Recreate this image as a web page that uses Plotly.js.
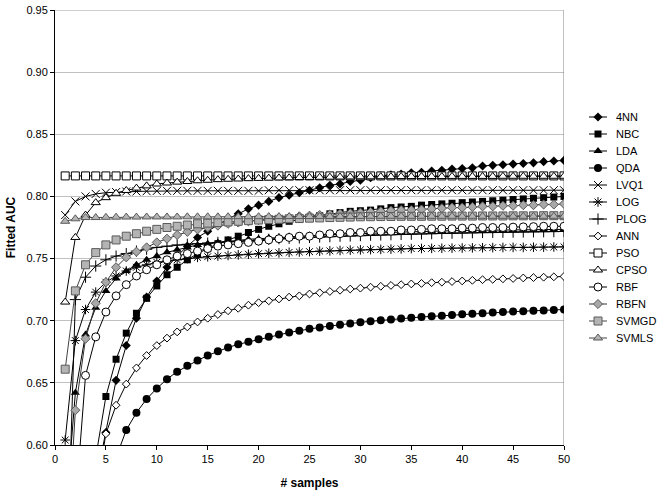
<!DOCTYPE html>
<html><head><meta charset="utf-8">
<script src="https://cdn.plot.ly/plotly-3.0.1.min.js"></script>
<style>html,body{margin:0;padding:0;background:#fff}</style>
</head><body>
<div id="chart" style="width:663px;height:494px"></div>
<script>
const samples = [1,2,3,4,5,6,7,8,9,10,11,12,13,14,15,16,17,18,19,20,21,22,23,24,25,26,27,28,29,30,31,32,33,34,35,36,37,38,39,40,41,42,43,44,45,46,47,48,49,50];
const seriesNames = ["4NN","NBC","LDA","QDA","LVQ1","LOG","PLOG","ANN","PSO","CPSO","RBF","RBFN","SVMGD","SVMLS"];
const xTicks = [0,5,10,15,20,25,30,35,40,45,50];
const yTicks = [0.60,0.65,0.70,0.75,0.80,0.85,0.90,0.95];

const auc4NN = [null,null,null,0.570,0.610,0.652,0.680,0.702,0.719,0.732,
0.743,0.752,0.760,0.767,0.772,0.777,0.782,0.786,0.790,0.793,
0.796,0.799,0.801,0.803,0.805,0.807,0.809,0.810,0.812,0.813,
0.815,0.8165,0.8175,0.818,0.819,0.8195,0.8205,0.821,0.822,0.8225,
0.823,0.8245,0.825,0.8255,0.826,0.8265,0.827,0.828,0.8285,0.829];
const aucNBC = [null,null,null,0.590,0.639,0.669,0.690,0.706,0.718,0.728,
0.737,0.743,0.749,0.754,0.758,0.762,0.765,0.768,0.771,0.7735,
0.776,0.778,0.780,0.7815,0.783,0.7845,0.786,0.787,0.788,0.7885,
0.789,0.790,0.791,0.7915,0.792,0.793,0.7935,0.794,0.7945,0.795,
0.7955,0.796,0.7965,0.797,0.7975,0.798,0.7985,0.799,0.7995,0.800];
const aucLDA = [0.540,0.642,0.689,0.7105,0.724,0.734,0.740,0.745,0.749,0.752,
0.755,0.757,0.759,0.761,0.762,0.763,0.764,0.765,0.7655,0.766,
0.7665,0.767,0.7675,0.768,0.7685,0.769,0.769,0.7695,0.770,0.770,
0.7705,0.771,0.771,0.7713,0.7716,0.772,0.772,0.7722,0.7724,0.7726,
0.7727,0.7728,0.7729,0.773,0.773,0.7731,0.7732,0.7733,0.7734,0.7735];
const aucQDA = [null,null,null,null,null,0.590,0.612,0.626,0.637,0.6455,
0.653,0.659,0.6637,0.668,0.672,0.6755,0.6785,0.681,0.683,0.685,
0.687,0.689,0.6905,0.692,0.6935,0.6946,0.6957,0.6968,0.6978,0.6987,
0.6995,0.7003,0.701,0.7017,0.7023,0.703,0.7035,0.704,0.7046,0.7052,
0.7056,0.7061,0.7066,0.707,0.7074,0.7077,0.708,0.7083,0.7086,0.709];
const aucLVQ1 = [0.785,0.796,0.800,0.802,0.803,0.8035,0.804,0.804,0.8042,0.8044,
0.8045,0.8045,0.8045,0.8045,0.8045,0.8045,0.8045,0.8045,0.8045,0.8045,
0.805,0.805,0.805,0.805,0.805,0.805,0.805,0.805,0.805,0.805,
0.805,0.805,0.805,0.805,0.805,0.805,0.805,0.805,0.805,0.805,
0.805,0.805,0.805,0.805,0.805,0.805,0.805,0.805,0.805,0.805];
const aucLOG = [0.604,0.684,0.709,0.723,0.731,0.736,0.740,0.743,0.745,0.747,
0.748,0.749,0.750,0.751,0.7515,0.752,0.7525,0.753,0.7535,0.754,
0.7543,0.7546,0.755,0.7553,0.7556,0.756,0.7562,0.7565,0.7568,0.757,
0.7572,0.7574,0.7576,0.7578,0.758,0.7581,0.7582,0.7583,0.7584,0.7585,
0.7586,0.7587,0.7588,0.7589,0.759,0.759,0.7591,0.7592,0.7593,0.7594];
const aucPLOG = [0.450,0.717,0.735,0.744,0.749,0.752,0.754,0.756,0.7575,0.759,
0.760,0.761,0.7615,0.762,0.7625,0.763,0.7635,0.764,0.7645,0.765,
0.7655,0.766,0.7663,0.7666,0.767,0.7673,0.7676,0.768,0.7682,0.7685,
0.7688,0.769,0.7692,0.7694,0.7696,0.7698,0.770,0.7702,0.7704,0.7706,
0.7708,0.771,0.7711,0.7712,0.7713,0.7714,0.7715,0.7716,0.7717,0.7718];
const aucANN = [null,null,null,0.560,0.609,0.632,0.649,0.662,0.672,0.680,
0.686,0.691,0.695,0.699,0.702,0.705,0.708,0.710,0.7125,0.7145,
0.716,0.7175,0.719,0.720,0.7215,0.7225,0.7235,0.7245,0.7255,0.7262,
0.727,0.7277,0.7284,0.729,0.7296,0.730,0.7306,0.731,0.7315,0.732,
0.7325,0.733,0.7333,0.7337,0.734,0.7344,0.7347,0.735,0.7353,0.7356];
const aucPSO = [0.8165,0.8165,0.8165,0.8165,0.8165,0.8165,0.8165,0.8165,0.8165,0.8165,
0.8165,0.8165,0.8165,0.8165,0.8165,0.8165,0.8165,0.8165,0.8165,0.8165,
0.8165,0.8165,0.8165,0.8165,0.8165,0.8165,0.8165,0.8165,0.8165,0.8165,
0.8165,0.8165,0.8165,0.8165,0.8165,0.8165,0.8165,0.8165,0.8165,0.8165,
0.8165,0.8165,0.8165,0.8165,0.8165,0.8165,0.8165,0.8165,0.8165,0.8165];
const aucCPSO = [0.715,0.767,0.785,0.795,0.799,0.8025,0.8048,0.8067,0.8085,0.810,
0.8108,0.8115,0.812,0.8126,0.813,0.8135,0.8138,0.814,0.8143,0.8145,
0.8147,0.8149,0.815,0.8152,0.8153,0.8154,0.8155,0.8156,0.8157,0.8158,
0.8158,0.8159,0.8159,0.816,0.816,0.816,0.816,0.816,0.8161,0.8161,
0.8161,0.8161,0.8161,0.8162,0.8162,0.8162,0.8162,0.8162,0.8162,0.8162];
const aucRBF = [null,0.550,0.656,0.687,0.707,0.720,0.729,0.736,0.741,0.745,
0.749,0.752,0.754,0.756,0.758,0.760,0.761,0.762,0.763,0.764,
0.765,0.766,0.767,0.768,0.768,0.769,0.770,0.770,0.771,0.771,
0.772,0.772,0.772,0.773,0.773,0.7735,0.774,0.774,0.774,0.7745,
0.7745,0.775,0.775,0.775,0.7753,0.7755,0.7757,0.776,0.776,0.776];
const aucRBFN = [0.490,0.628,0.6855,0.714,0.731,0.743,0.751,0.7555,0.759,0.763,
0.766,0.769,0.7715,0.7735,0.775,0.7765,0.778,0.779,0.780,0.781,
0.782,0.7825,0.783,0.784,0.7845,0.785,0.7855,0.786,0.7865,0.787,
0.7875,0.788,0.7885,0.789,0.789,0.7895,0.790,0.7905,0.791,0.791,
0.7915,0.792,0.792,0.7925,0.7925,0.793,0.793,0.7935,0.7935,0.794];
const aucSVMGD = [0.661,0.724,0.745,0.7548,0.761,0.765,0.768,0.770,0.772,0.7735,
0.775,0.776,0.777,0.778,0.7785,0.779,0.7795,0.780,0.7805,0.781,
0.7813,0.7816,0.782,0.7822,0.7825,0.7827,0.783,0.7832,0.7834,0.7836,
0.7837,0.7838,0.7839,0.784,0.784,0.784,0.7841,0.7841,0.7842,0.7842,
0.7842,0.7843,0.7843,0.7843,0.7844,0.7844,0.7844,0.7845,0.7845,0.7845];
const aucSVMLS = [0.780,0.782,0.783,0.783,0.7832,0.7833,0.7834,0.7834,0.7835,0.7835,
0.7835,0.7835,0.7836,0.7836,0.7836,0.7836,0.7837,0.7837,0.7837,0.7837,
0.7838,0.7838,0.7838,0.7838,0.7838,0.7839,0.7839,0.7839,0.7839,0.7839,
0.784,0.784,0.784,0.784,0.784,0.784,0.784,0.784,0.784,0.784,
0.784,0.784,0.784,0.784,0.784,0.784,0.784,0.784,0.784,0.784];

const seriesValues = [auc4NN,aucNBC,aucLDA,aucQDA,aucLVQ1,aucLOG,aucPLOG,aucANN,aucPSO,aucCPSO,aucRBF,aucRBFN,aucSVMGD,aucSVMLS];

// marker styles per series (same order as names)
const GRAY = '#b4b4b4', GRAYLINE = '#5a5a5a';
const styles = [
  {symbol:'diamond', size:7, color:'#000', lc:'#000', lw:0, line:'#000'},
  {symbol:'square', size:7, color:'#000', lc:'#000', lw:0, line:'#000'},
  {symbol:'triangle-up', size:8, color:'#000', lc:'#000', lw:0, line:'#000'},
  {symbol:'circle', size:8, color:'#000', lc:'#000', lw:0, line:'#000'},
  {symbol:'x-thin-open', size:8, color:'#000', lc:'#000', lw:1, line:'#000'},
  {symbol:'asterisk-open', size:8, color:'#000', lc:'#000', lw:1, line:'#000'},
  {symbol:'cross-thin-open', size:8, color:'#000', lc:'#000', lw:1, line:'#000'},
  {symbol:'diamond', size:6, color:'#fff', lc:'#000', lw:1, line:'#000'},
  {symbol:'square', size:8, color:'#fff', lc:'#000', lw:1, line:'#000'},
  {symbol:'triangle-up', size:8, color:'#fff', lc:'#000', lw:1, line:'#000'},
  {symbol:'circle', size:8, color:'#fff', lc:'#000', lw:1, line:'#000'},
  {symbol:'diamond', size:7, color:'#a8a8a8', lc:GRAYLINE, lw:1, line:'#333'},
  {symbol:'square', size:8, color:GRAY, lc:GRAYLINE, lw:1, line:'#444'},
  {symbol:'triangle-up', size:8, color:GRAY, lc:GRAYLINE, lw:1, line:'#444'}
];

const FONT = 'Liberation Sans, Arial, sans-serif';
const traces = [];
seriesNames.forEach((name, i) => {
  const s = styles[i];
  traces.push({
    type:'scatter', mode:'lines+markers', name:name, x:samples, y:seriesValues[i],
    line:{color:s.line, width:1}, connectgaps:false, showlegend:false,
    marker:{symbol:s.symbol, size:s.size, color:s.color, line:{color:s.lc, width:s.lw}},
    xaxis:'x', yaxis:'y', hoverinfo:'skip'
  });
});
// custom legend drawn on a hidden overlay axis (17px row spacing)
const annotations = [];
seriesNames.forEach((name, i) => {
  const s = styles[i];
  traces.push({
    type:'scatter', mode:'lines+markers', x:[0,0.5,1], y:[-i,-i,-i],
    line:{color:s.line, width:1}, showlegend:false, hoverinfo:'skip',
    marker:{symbol:s.symbol, size:s.size, color:s.color, opacity:[0,1,0], line:{color:s.lc, width:s.lw}},
    xaxis:'x2', yaxis:'y2', cliponaxis:false
  });
  annotations.push({xref:'paper', yref:'y2', x:(614-55)/603, y:-i, text:name, showarrow:false,
    xanchor:'left', yanchor:'middle', font:{family:FONT, size:11, color:'#000'}});
});

const layout = {
  width:663, height:494,
  margin:{l:55, r:5, t:10, b:49},
  paper_bgcolor:'#fff', plot_bgcolor:'#fff',
  showlegend:false,
  font:{family:FONT, size:11, color:'#000'},
  xaxis:{domain:[0,(564-55)/603], range:[0,50], tickvals:xTicks, ticktext:xTicks.map(String),
    showgrid:false, zeroline:false, showline:true, linecolor:'#000', linewidth:1,
    ticks:'outside', ticklen:4, tickcolor:'#000', tickfont:{family:FONT, size:11, color:'#000'},
    title:{text:'# samples', font:{family:FONT, size:12, weight:'bold', color:'#000'}, standoff:14}},
  yaxis:{domain:[0,1], range:[0.6,0.95], tickvals:yTicks, ticktext:yTicks.map(v=>v.toFixed(2)),
    showgrid:true, gridcolor:'#c0c0c0', gridwidth:1, zeroline:false, showline:true, linecolor:'#000', linewidth:1,
    ticks:'outside', ticklen:4, tickcolor:'#000', tickfont:{family:FONT, size:11, color:'#000'},
    title:{text:'Fitted AUC', font:{family:FONT, size:12, weight:'bold', color:'#000'}, standoff:8}},
  xaxis2:{domain:[(589-55)/603,(607-55)/603], range:[0,1], visible:false, anchor:'y2', fixedrange:true},
  yaxis2:{domain:[0,1], range:[-19.294,6.294], visible:false, anchor:'x2', fixedrange:true},
  shapes:[
    {type:'line', xref:'x', yref:'y', x0:50, x1:50, y0:0.6, y1:0.95, line:{color:'#808080', width:1}, layer:'between'},
    {type:'line', xref:'x', yref:'y', x0:0, x1:50, y0:0.95, y1:0.95, line:{color:'#a0a0a0', width:1}, layer:'between'}
  ],
  annotations:annotations
};
Plotly.newPlot('chart', traces, layout, {staticPlot:true, displayModeBar:false});
</script>
</body></html>
